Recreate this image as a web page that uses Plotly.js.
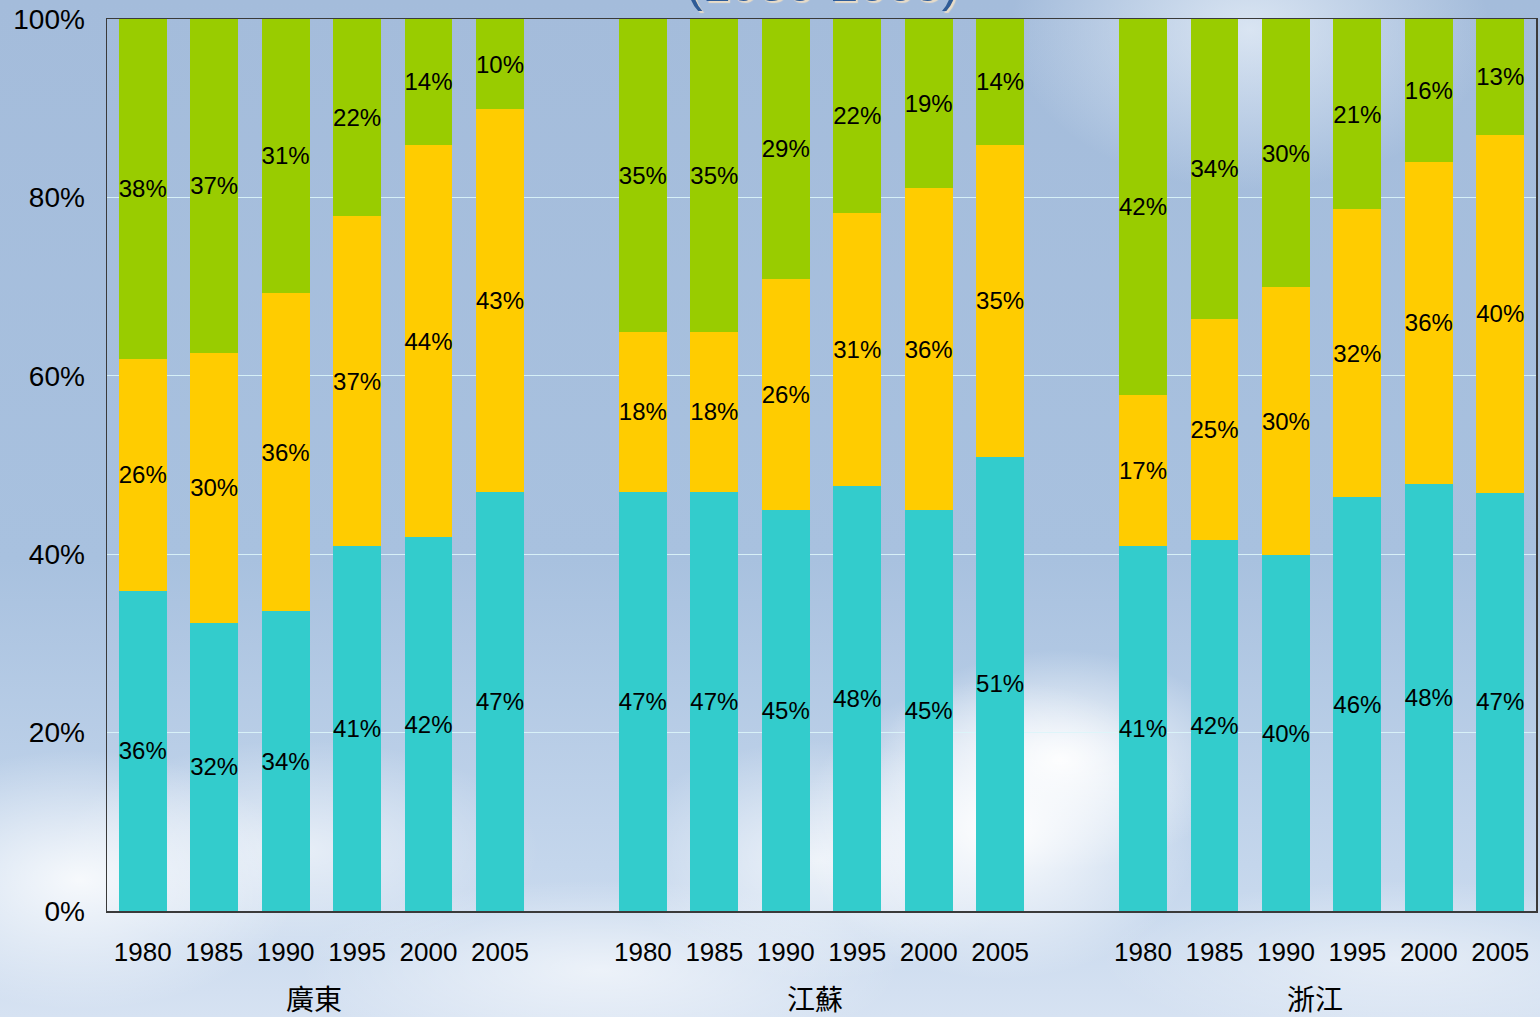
<!DOCTYPE html>
<html>
<head>
<meta charset="utf-8">
<script src="https://cdn.plot.ly/plotly-3.0.1.min.js"></script>
<style>
html,body{margin:0;padding:0;}
body{width:1540px;height:1017px;overflow:hidden;
background:
 radial-gradient(ellipse 200px 150px at 1000px 830px, rgba(255,255,255,1), rgba(255,255,255,0) 100%),
 radial-gradient(ellipse 180px 110px at 1060px 760px, rgba(255,255,255,0.95), rgba(255,255,255,0) 100%),
 radial-gradient(ellipse 200px 120px at 820px 860px, rgba(255,255,255,0.7), rgba(255,255,255,0) 100%),
 radial-gradient(ellipse 220px 130px at 80px 880px, rgba(255,255,255,0.85), rgba(255,255,255,0) 100%),
 radial-gradient(ellipse 240px 110px at 300px 850px, rgba(255,255,255,0.6), rgba(255,255,255,0) 100%),
 radial-gradient(ellipse 300px 90px at 600px 970px, rgba(255,255,255,0.6), rgba(255,255,255,0) 100%),
 radial-gradient(ellipse 300px 80px at 1400px 960px, rgba(255,255,255,0.45), rgba(255,255,255,0) 100%),
 radial-gradient(ellipse 240px 160px at 1250px 30px, rgba(235,242,250,0.75), rgba(255,255,255,0) 100%),
 linear-gradient(to bottom, #a4bcdb 0%, #a8c1df 55%, #c4d6ec 85%, #d6e2f2 100%);}
#chart{width:1540px;height:1017px;}
</style>
</head>
<body>
<div id="chart"></div>
<script>
const groups = ["廣東", "江蘇", "浙江"];
const years = ["1980", "1985", "1990", "1995", "2000", "2005"];

// shares (%) per group, in year order
const primary = [
  [35.9, 32.3, 33.6, 40.9, 41.9, 47.0],
  [47.0, 47.0, 45.0, 47.6, 45.0, 50.9],
  [40.9, 41.6, 39.9, 46.4, 47.9, 46.9]
];
const secondary = [
  [26.0, 30.3, 35.7, 37.0, 44.0, 42.9],
  [17.9, 17.9, 25.9, 30.7, 36.0, 35.0],
  [17.0, 24.8, 30.0, 32.3, 36.1, 40.1]
];
const tertiary = [
  [38.1, 37.4, 30.7, 22.1, 14.1, 10.1],
  [35.1, 35.1, 29.1, 21.7, 19.0, 14.1],
  [42.1, 33.6, 30.1, 21.3, 16.0, 13.0]
];

const seriesColors = ["#33CCCC", "#FFCC00", "#99CC00"];
const GAP = 1;
const xs = [], tickText = [], groupCenters = [];
groups.forEach((g, gi) => {
  const base = gi * (years.length + GAP);
  years.forEach((y, i) => { xs.push(base + i); tickText.push(y); });
  groupCenters.push(base + (years.length - 1) / 2);
});
const flat = a => a.reduce((r, v) => r.concat(v), []);

const font = "Liberation Sans, Arial, sans-serif";
const traces = [primary, secondary, tertiary].map((d, k) => ({
  type: "bar",
  x: xs,
  y: flat(d),
  marker: {color: seriesColors[k], line: {width: 0}},
  width: 0.67,
  texttemplate: "%{y:.0f}%",
  textposition: "inside",
  insidetextanchor: "middle",
  textangle: 0,
  constraintext: "none",
  textfont: {family: font, size: 24, color: "#000"},
  hoverinfo: "skip"
}));

const annotations = groups.map((g, gi) => ({
  x: groupCenters[gi], xref: "x", xshift: -7,
  y: 0, yref: "paper", yanchor: "middle", yshift: -87,
  text: g, showarrow: false,
  font: {family: "Noto Sans CJK TC, sans-serif", size: 28, color: "#000"}
}));
annotations.push({
  x: 0.5, xref: "paper", y: 1, yref: "paper", yanchor: "bottom", yshift: 5,
  text: "(1980-2005)", showarrow: false,
  font: {family: font, size: 50, color: "#2f5b96", shadow: "2px 2px 1px #e8dcc8"}
});

const layout = {
  width: 1540, height: 1017,
  margin: {l: 107, r: 4, t: 19, b: 106},
  paper_bgcolor: "rgba(0,0,0,0)",
  plot_bgcolor: "rgba(0,0,0,0)",
  barmode: "stack",
  showlegend: false,
  xaxis: {
    range: [-0.5, xs[xs.length - 1] + 0.5],
    tickvals: xs, ticktext: tickText,
    tickfont: {family: font, size: 26, color: "#000"},
    ticks: "", ticklabelstandoff: 17,
    showgrid: false, zeroline: false,
    showline: true, linecolor: "#3a3a3a", linewidth: 1.5, mirror: true
  },
  yaxis: {
    range: [0, 100],
    tickvals: [0, 20, 40, 60, 80, 100],
    ticktext: ["0%", "20%", "40%", "60%", "80%", "100%"],
    tickfont: {family: font, size: 28, color: "#000"},
    ticks: "", ticklabelstandoff: 15,
    showgrid: true, gridcolor: "rgba(220,245,250,0.9)", gridwidth: 1,
    zeroline: false,
    showline: true, linecolor: "#3a3a3a", linewidth: 1.5, mirror: true
  },
  annotations: annotations
};

Plotly.newPlot("chart", traces, layout, {displayModeBar: false, staticPlot: true});
</script>
</body>
</html>
